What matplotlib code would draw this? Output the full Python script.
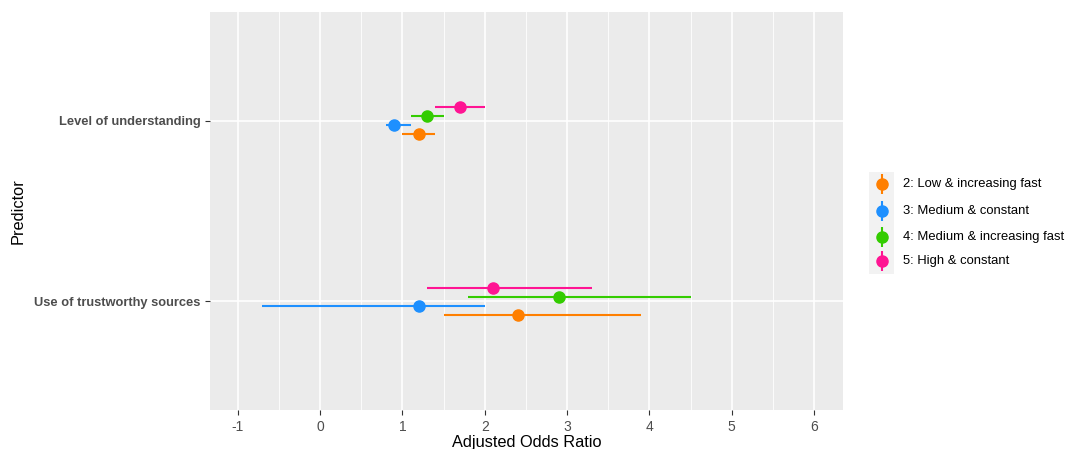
import matplotlib
matplotlib.use("Agg")
import matplotlib.pyplot as plt
import numpy as np

plt.rcParams['font.family'] = ['Liberation Sans', 'DejaVu Sans']
plt.rcParams['axes.unicode_minus'] = False

predictors = ["Use of trustworthy sources", "Level of understanding"]
groups = ["2: Low & increasing fast", "3: Medium & constant",
          "4: Medium & increasing fast", "5: High & constant"]
colors = ["#FF7F00", "#1E90FF", "#33CC00", "#FF1493"]

# odds ratio estimates and intervals, per group, per predictor (same order as predictors)
estimate = {
    groups[0]: [2.4, 1.2],
    groups[1]: [1.2, 0.9],
    groups[2]: [2.9, 1.3],
    groups[3]: [2.1, 1.7],
}
lower = {
    groups[0]: [1.5, 1.0],
    groups[1]: [-0.7, 0.8],
    groups[2]: [1.8, 1.1],
    groups[3]: [1.3, 1.4],
}
upper = {
    groups[0]: [3.9, 1.4],
    groups[1]: [2.0, 1.1],
    groups[2]: [4.5, 1.5],
    groups[3]: [3.3, 2.0],
}

W, H = 1066, 449
fig = plt.figure(figsize=(W / 100, H / 100), dpi=100)
ax = fig.add_axes([210 / W, 1 - 410 / H, (843 - 210) / W, (410 - 12) / H])
ax.set_facecolor("#EBEBEB")
for s in ax.spines.values():
    s.set_visible(False)

dodge = 0.15
n = len(groups)
base = np.arange(1, len(predictors) + 1)
for i, g in enumerate(groups):
    off = (i - (n - 1) / 2) * dodge / (n - 1)
    y = base + off
    est = np.array(estimate[g])
    lo = np.array(lower[g])
    hi = np.array(upper[g])
    ax.hlines(y, lo, hi, color=colors[i], lw=1.5, zorder=3)
    ax.plot(est, y, "o", color=colors[i], ms=8, zorder=4)

ax.set_xlim(-1.335, 6.35)
ax.set_ylim(0.4, 2.6)
ax.set_xticks(range(-1, 7))
ax.set_xticks(np.arange(-0.5, 6.5, 1), minor=True)
ax.set_yticks(base)
ax.set_yticklabels(predictors, fontweight="bold", fontsize=9.3)
ax.grid(True, which="major", color="white", lw=1.2)
ax.grid(True, which="minor", axis="x", color="white", lw=0.6)
ax.set_axisbelow(True)
ax.tick_params(which="major", length=3.5, width=0.8, color="#333333",
               labelcolor="#4D4D4D")
ax.tick_params(axis="x", labelsize=10)
ax.tick_params(which="minor", length=0)
ax.set_xlabel("Adjusted Odds Ratio", fontsize=11.8, color="black", labelpad=1)
fig.text(18 / W, 1 - 211 / H, "Predictor", fontsize=11.8, rotation=90,
         ha="center", va="center")

# legend
lax = fig.add_axes([869 / W, 1 - 274 / H, 25 / W, 102 / H])
lax.set_facecolor("#F2F2F2")
for s in lax.spines.values():
    s.set_visible(False)
lax.set_xlim(0, 1)
lax.set_ylim(274, 172)
lax.set_xticks([])
lax.set_yticks([])
key_y = [184, 211, 237, 261]
for i, g in enumerate(groups):
    lax.vlines(0.5, key_y[i] - 10, key_y[i] + 10, color=colors[i], lw=1.5)
    lax.plot(0.5, key_y[i], "o", color=colors[i], ms=8)
    fig.text(903 / W, 1 - key_y[i] / H, g, fontsize=9.4, va="center", ha="left")

fig.savefig("out.png", dpi=100)
